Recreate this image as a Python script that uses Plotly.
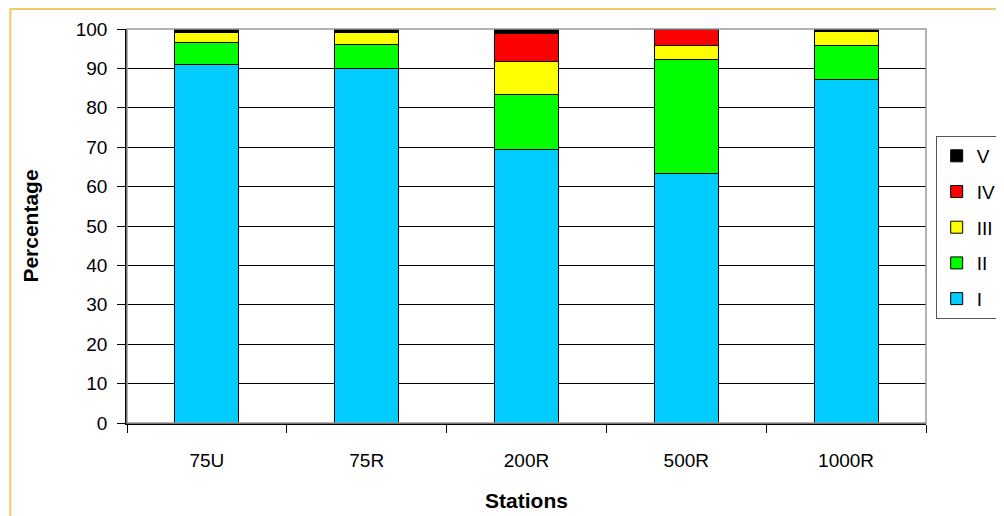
import plotly.graph_objects as go

stations = ["75U", "75R", "200R", "500R", "1000R"]
cls_I = [91.1, 90.1, 69.3, 63.2, 87.1]
cls_II = [5.6, 6.0, 14.2, 29.1, 8.6]
cls_III = [2.5, 3.1, 8.2, 3.6, 3.6]
cls_IV = [0.0, 0.0, 7.2, 4.1, 0.0]
cls_V = [0.8, 0.8, 1.1, 0.0, 0.7]
series_names = ["I", "II", "III", "IV", "V"]
series_colors = ["#00CCFF", "#00FF00", "#FFFF00", "#FF0000", "#000000"]
y_ticks = [0, 10, 20, 30, 40, 50, 60, 70, 80, 90, 100]

fig = go.Figure()
for i, (name, vals, col) in enumerate(zip(series_names, [cls_I, cls_II, cls_III, cls_IV, cls_V], series_colors)):
    fig.add_trace(go.Bar(
        x=stations, y=vals, name=name, legendgroup=name,
        legendrank=len(series_names) - i,
        marker=dict(color=col, line=dict(color="black", width=1)),
    ))

font_family = "Liberation Sans, Arial, sans-serif"
fig.update_layout(
    barmode="stack",
    bargap=0.6,
    width=1004, height=516,
    margin=dict(l=119, r=86, t=21, b=101, autoexpand=False),
    paper_bgcolor="white",
    plot_bgcolor="white",
    font=dict(family=font_family, size=19, color="black"),
    showlegend=True,
    legend=dict(
        xref="container", yref="container",
        x=0.924, y=0.752, xanchor="left", yanchor="top",
        traceorder="grouped", tracegroupgap=8,
        bordercolor="#555555", borderwidth=1, bgcolor="white",
        font=dict(size=19, family=font_family),
        itemwidth=30,
    ),
    xaxis=dict(
        showline=True, linecolor="black", linewidth=1.5,
        ticks="outside", tickson="boundaries", ticklen=8, tickcolor="black",
        showgrid=False,
        ticklabelstandoff=19,
        title=dict(text="<b>Stations</b>", font=dict(size=21), standoff=24),
        tickfont=dict(size=19),
    ),
    yaxis=dict(
        range=[0, 100], tickvals=y_ticks,
        showline=True, linecolor="black", linewidth=1.5,
        ticks="outside", ticklen=8, tickcolor="black",
        ticklabelstandoff=6,
        showgrid=True, gridcolor="black", gridwidth=1.4,
        zeroline=False,
        title=dict(text="<b>Percentage</b>", font=dict(size=21), standoff=31),
        tickfont=dict(size=19),
    ),
    shapes=[
        dict(type="rect", xref="paper", yref="paper", x0=0, x1=1, y0=0, y1=1,
             line=dict(color="#999999", width=1.5), layer="above"),
        dict(type="rect", xref="paper", yref="paper", x0=-0.146, x1=1.104, y0=-0.246, y1=1.051,
             line=dict(color="#F2C96B", width=2), layer="above"),
    ],
)
fig.write_html("out.html")
